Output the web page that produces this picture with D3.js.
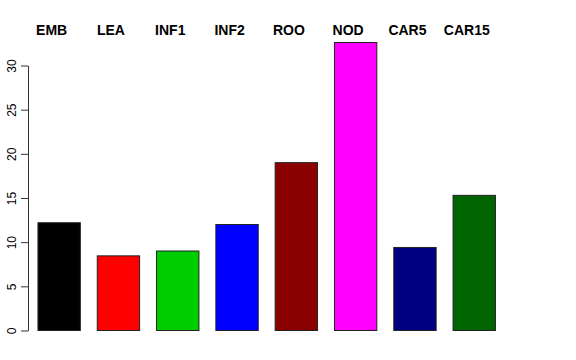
<!DOCTYPE html>
<html>
<head>
<meta charset="utf-8">
<script src="https://cdn.jsdelivr.net/npm/d3@7"></script>
<style>
  body { margin: 0; background: #fff; }
  svg { display: block; font-family: "Liberation Sans", Arial, sans-serif; }
</style>
</head>
<body>
<svg width="576" height="360"></svg>
<script>
// data
const stages = ["EMB", "LEA", "INF1", "INF2", "ROO", "NOD", "CAR5", "CAR15"];
const values = [12.2, 8.45, 9.0, 12.0, 19.0, 32.6, 9.4, 15.3];
const barColors = ["#000000", "#ff0000", "#00cd00", "#0000ff", "#8b0000", "#ff00ff", "#000080", "#006400"];
const yTicks = [0, 5, 10, 15, 20, 25, 30];

const svg = d3.select("svg");

// bar layout: width 1, gap 0.4 like R barplot(space = 0.4)
const step = 59.3;
const x = d3.scaleBand()
  .domain(stages)
  .range([29.5, 29.5 + step * stages.length])
  .paddingInner(0.4 / 1.4)
  .paddingOuter(0.2 / 1.4);

const y = d3.scaleLinear()
  .domain([0, 30])
  .range([330.5, 65.5]);

// bars
svg.append("g").selectAll("rect")
  .data(stages)
  .enter().append("rect")
  .attr("x", d => x(d))
  .attr("width", x.bandwidth())
  .attr("y", (d, i) => y(values[i]))
  .attr("height", (d, i) => y(0) - y(values[i]))
  .attr("fill", (d, i) => barColors[i])
  .attr("stroke", "#222")
  .attr("stroke-width", 1);

// y axis, R style with rotated labels
const yAxis = svg.append("g")
  .attr("transform", "translate(28,0)")
  .call(d3.axisLeft(y).tickValues(yTicks).tickSize(7).tickSizeOuter(0));
yAxis.select(".domain").attr("stroke", "#333");
yAxis.selectAll(".tick line").attr("stroke", "#333");
yAxis.selectAll(".tick text")
  .attr("x", null).attr("dy", null)
  .attr("transform", "translate(-12,0) rotate(-90)")
  .attr("text-anchor", "middle")
  .style("font-size", "12px")
  .style("font-family", "'Liberation Sans', Arial, sans-serif")
  .attr("fill", "#000");

// stage labels on top
svg.append("g").selectAll("text")
  .data(stages)
  .enter().append("text")
  .attr("x", d => x(d) + x.bandwidth() / 2 - 7.5)
  .attr("y", 34.5)
  .attr("text-anchor", "middle")
  .style("font-size", "14px")
  .style("font-weight", "bold")
  .text(d => d);
</script>
</body>
</html>
